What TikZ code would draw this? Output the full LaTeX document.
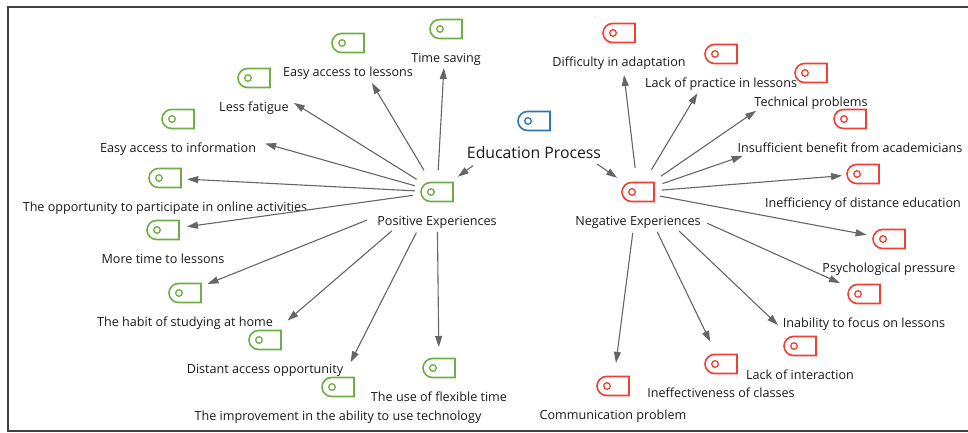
\documentclass[tikz,border=0pt]{standalone}
\usepackage{fontspec}
\setmainfont{Open Sans}
\usetikzlibrary{positioning,shapes.misc,arrows.meta}
\definecolor{posgreen}{HTML}{70AD47}
\definecolor{negred}{HTML}{EE4035}
\definecolor{edublue}{HTML}{2E75B6}
\definecolor{arrgray}{HTML}{666666}
\begin{document}
\begin{tikzpicture}[->,>={Triangle[length=11pt,width=7pt]},x=1pt,y=-1pt,node distance=13.5pt,
    ic/.style={rounded rectangle,rounded rectangle right arc=none,draw,line width=1.6pt,
      minimum width=32pt,minimum height=19pt,inner sep=0pt,
      path picture={\draw[line width=1.3pt] ([xshift=10pt]path picture bounding box.west) circle (3.3pt);}},
    goodtag/.style={ic,color=posgreen},
    badtag/.style={ic,color=negred},
    edutag/.style={ic,color=edublue},
    lab/.style={inner sep=0pt,text height=9.5pt,text depth=3pt,text=black!90,
      font=\fontsize{12.6}{14}\selectfont},
    every edge/.append style={arrgray,line width=1.1pt}]
  \useasboundingbox (0,0) rectangle (968,433);
  \draw [-,line width=1.2pt,black!75] (990,7) -- (8,7) -- (8,431) -- (990,431);

  % centre
  \node [edutag] (edu) at (534,121) {};
  \node [lab,font=\fontsize{15.8}{18}\selectfont,text height=12pt,text depth=4pt,below=15pt of edu] (edulab) {Education Process};
  \node [goodtag] (good) at (437,192) {};
  \node [lab,below=of good] (goodlab) {Positive Experiences};
  \node [badtag] (bad) at (638,192) {};
  \node [lab,below=of bad] (badlab) {Negative Experiences};

  % positive side
  \node [goodtag] (saving) at (446,29) {};
  \node [lab,below=of saving] (savinglab) {Time saving};
  \node [goodtag] (lessons) at (348,43) {};
  \node [lab,below=of lessons] (lessonslab) {Easy access to lessons};
  \node [goodtag] (fatigue) at (254,78) {};
  \node [lab,below=of fatigue] (fatiguelab) {Less fatigue};
  \node [goodtag] (info) at (178,119) {};
  \node [lab,below=of info] (infolab) {Easy access to information};
  \node [goodtag] (online) at (165,178) {};
  \node [lab,below=of online] (onlinelab) {The opportunity to participate in online activities};
  \node [goodtag] (moretime) at (163,230) {};
  \node [lab,below=of moretime] (moretimelab) {More time to lessons};
  \node [goodtag] (habit) at (185,293) {};
  \node [lab,below=of habit] (habitlab) {The habit of studying at home};
  \node [goodtag] (distant) at (265,340) {};
  \node [lab,below=of distant] (distantlab) {Distant access opportunity};
  \node [goodtag] (technology) at (338,387) {};
  \node [lab,below=of technology] (technologylab) {The improvement in the ability to use technology};
  \node [goodtag] (flexible) at (439,368) {};
  \node [lab,below=of flexible] (flexiblelab) {The use of flexible time};

  % negative side
  \node [badtag] (adapt) at (619,33) {};
  \node [lab,below=of adapt] (adaptlab) {Difficulty in adaptation};
  \node [badtag] (practice) at (721,54) {};
  \node [lab,below=of practice] (practicelab) {Lack of practice in lessons};
  \node [badtag] (technical) at (811,73) {};
  \node [lab,below=of technical] (technicallab) {Technical problems};
  \node [badtag] (benefit) at (850,119) {};
  \node [lab,below=of benefit] (benefitlab) {Insufficient benefit from academicians};
  \node [badtag] (distance) at (863,174) {};
  \node [lab,below=of distance] (distancelab) {Inefficiency of distance education};
  \node [badtag] (pressure) at (889,239) {};
  \node [lab,below=of pressure] (pressurelab) {Psychological pressure};
  \node [badtag] (focus) at (864,294) {};
  \node [lab,below=of focus] (focuslab) {Inability to focus on lessons};
  \node [badtag] (interaction) at (800,346) {};
  \node [lab,below=of interaction] (interactionlab) {Lack of interaction};
  \node [badtag] (classes) at (721,364) {};
  \node [lab,below=of classes] (classeslab) {Ineffectiveness of classes};
  \node [badtag] (communication) at (613,386) {};
  \node [lab,below=of communication] (communicationlab) {Communication problem};

  % arrows
  \path (edu.center) edge [shorten <=75.6pt,shorten >=25.8pt] (good.center);
  \path (edu.center) edge [shorten <=76.3pt,shorten >=25.2pt] (bad.center);

  \path (good.center) edge [shorten <=22pt,shorten >=39pt] (saving.center);
  \path (good.center) edge [shorten <=25.5pt,shorten >=46.6pt] (lessons.center);
  \path (good.center) edge [shorten <=24pt,shorten >=47pt] (fatigue.center);
  \path (good.center) edge [shorten <=22.8pt,shorten >=90.5pt] (info.center);
  \path (good.center) edge [shorten <=22pt,shorten >=22.2pt] (online.center);
  \path (good.center) edge [shorten <=24.2pt,shorten >=24.2pt] (moretime.center);
  \path (good.center) edge [shorten <=75.4pt,shorten >=24.2pt] (habit.center);
  \path (good.center) edge [shorten <=59.5pt,shorten >=29.7pt] (distant.center);
  \path (good.center) edge [shorten <=45.6pt,shorten >=27.7pt] (technology.center);
  \path (good.center) edge [shorten <=40pt,shorten >=21pt] (flexible.center);

  \path (bad.center) edge [shorten <=24.2pt,shorten >=42.3pt] (adapt.center);
  \path (bad.center) edge [shorten <=26pt,shorten >=45.8pt] (practice.center);
  \path (bad.center) edge [shorten <=27.8pt,shorten >=66.6pt] (technical.center);
  \path (bad.center) edge [shorten <=26pt,shorten >=113.5pt] (benefit.center);
  \path (bad.center) edge [shorten <=24pt,shorten >=21pt] (distance.center);
  \path (bad.center) edge [shorten <=22.6pt,shorten >=22.8pt] (pressure.center);
  \path (bad.center) edge [shorten <=76pt,shorten >=26.4pt] (focus.center);
  \path (bad.center) edge [shorten <=56.6pt,shorten >=30.4pt] (interaction.center);
  \path (bad.center) edge [shorten <=44.3pt,shorten >=24.6pt] (classes.center);
  \path (bad.center) edge [shorten <=41.3pt,shorten >=23.3pt] (communication.center);
\end{tikzpicture}
\end{document}
